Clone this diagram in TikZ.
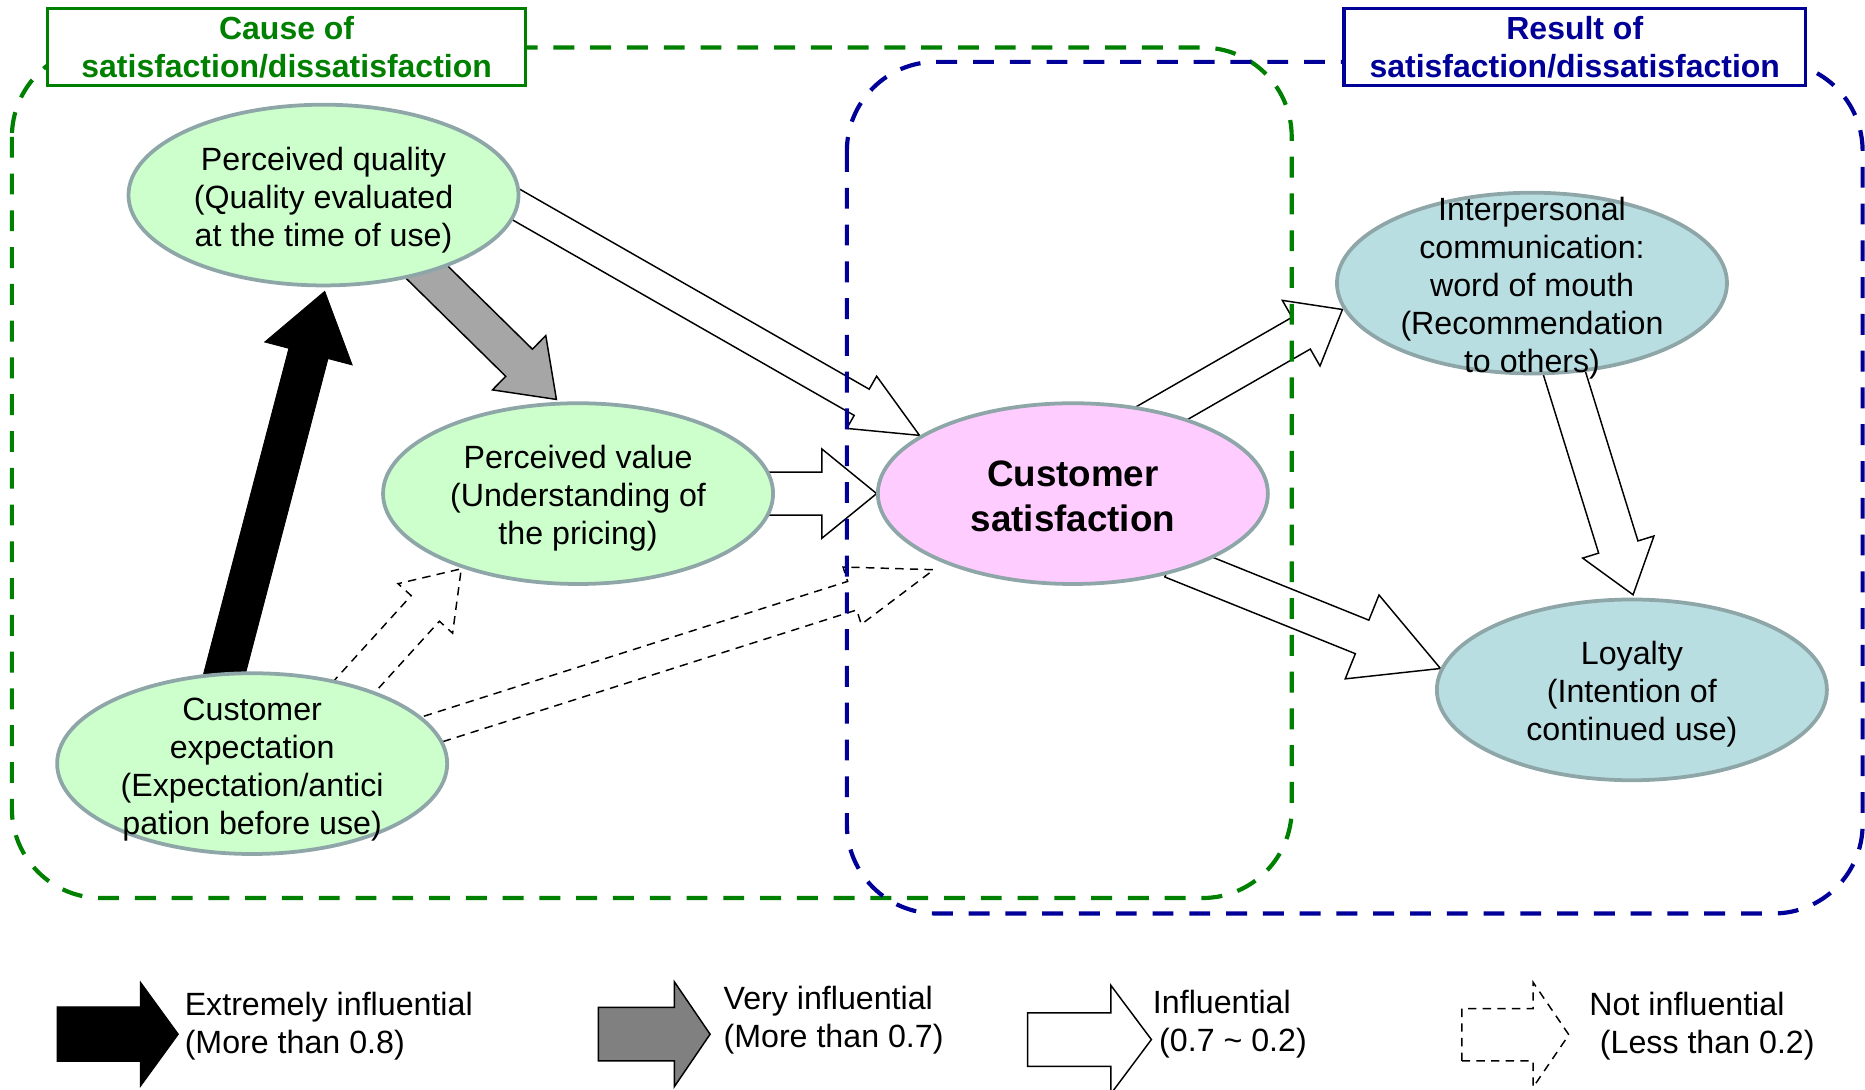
\documentclass[tikz,border=0pt]{standalone}
\usepackage{fontspec}
\setmainfont{Liberation Sans}
\usetikzlibrary{shapes.geometric,calc,backgrounds}

\definecolor{causegreen}{RGB}{0,128,0}
\definecolor{resultblue}{RGB}{0,0,153}
\definecolor{ellborder}{RGB}{143,166,168}
\definecolor{factorgreen}{RGB}{204,255,204}
\definecolor{satpink}{RGB}{255,204,255}
\definecolor{resultcyan}{RGB}{185,222,226}
\definecolor{arrgray}{RGB}{166,166,166}
\definecolor{leggray}{RGB}{128,128,128}

\tikzset{
  ellip/.style={ellipse, draw=ellborder, line width=1.8pt, inner sep=0pt,
    minimum width=6.56cm, minimum height=3.04cm},
  ellitext/.style={align=center, inner sep=0pt, font=\fontsize{15.4pt}{18.2pt}\selectfont},
  legtext/.style={align=left, anchor=west, inner sep=0pt, font=\fontsize{15.4pt}{18.2pt}\selectfont},
  titlebox/.style={draw, fill=white, line width=1.7pt, align=center, inner sep=0pt,
    minimum height=1.3cm, font=\bfseries\fontsize{15.3pt}{18.2pt}\selectfont},
  bound/.style={line width=2pt, dash pattern=on 10pt off 7.6pt, rounded corners=1.5cm},
  blackarrow/.style={fill=black},
  grayarrow/.style={draw=black, line width=0.7pt, fill=arrgray},
  whitearrow/.style={draw=black, line width=0.7pt, fill=white},
  dasharrow/.style={draw=black, line width=0.7pt, dash pattern=on 4pt off 3pt, fill=white}
}

% block arrow: style, tail, tip, shaft half width, head half width, head length
\newcommand{\bigarrow}[6]{%
  \path let \p1=#2, \p2=#3 in \pgfextra{%
    \pgfmathparse{atan2(\y2-\y1,\x2-\x1)}\xdef\arrang{\pgfmathresult}%
    \pgfmathparse{veclen(\x2-\x1,\y2-\y1)/0.569055}\xdef\arrlen{\pgfmathresult}%
    \xdef\arrx{\x1}\xdef\arry{\y1}};
  \draw[#1, shift={(\arrx,\arry)}, rotate=\arrang]
    (0,#4) -- ({\arrlen-#6},#4) -- ({\arrlen-#6},#5) -- (\arrlen,0)
    -- ({\arrlen-#6},-#5) -- ({\arrlen-#6},-#4) -- (0,-#4) -- cycle;
}

\begin{document}
\begin{tikzpicture}[x=0.02cm, y=-0.02cm]
\useasboundingbox (0,0) rectangle (1568,916);

% Causes
\node[ellip, fill=factorgreen] (pq) at (272,164) {};
\node[ellitext] (pqtext) at (272,168) {Perceived quality\\(Quality evaluated\\at the time of use)};
\node[ellip, fill=factorgreen] (pv) at (486,415) {};
\node[ellitext] (pvtext) at (486,419) {Perceived value\\(Understanding of\\the pricing)};
\node[ellip, fill=factorgreen] (ce) at (212,642) {};
\node[ellitext] (cetext) at (212,647) {Customer\\expectation\\(Expectation/antici\\pation before use)};

% Satisfaction
\node[ellip, fill=satpink] (cs) at (902,415) {};
\node[ellitext, font=\bfseries\fontsize{17.6pt}{21.6pt}\selectfont] (cstext) at (902,417) {Customer\\satisfaction};

% Results
\node[ellip, fill=resultcyan] (ic) at (1288,238) {};
\node[ellitext] (ictext) at (1288,242) {Interpersonal\\communication:\\word of mouth\\(Recommendation\\to others)};
\node[ellip, fill=resultcyan] (ly) at (1372,580) {};
\node[ellitext] (lytext) at (1372,584) {Loyalty\\(Intention of\\continued use)};

% Influence arrows
\begin{pgfonlayer}{background}
\bigarrow{blackarrow}{($(ce)+(-26,-65)$)}{($(pq)+(1,81)$)}{17}{38}{54}
\bigarrow{grayarrow}{($(pq)+(80,58)$)}{($(pv)+(-18,-79)$)}{16}{32}{44}
\bigarrow{whitearrow}{($(pq)+(148,0)$)}{($(cs)+(-129,-49)$)}{12.7}{25.3}{56}
\bigarrow{whitearrow}{($(pv)+(154,0)$)}{($(cs)+(-165,0)$)}{18}{37.5}{46}
\bigarrow{dasharrow}{($(ce)+(78,-56)$)}{($(pv)+(-98,63)$)}{16}{31}{45}
\bigarrow{dasharrow}{($(ce)+(133,-23)$)}{($(cs)+(-117,64)$)}{12.6}{25.3}{72}
\bigarrow{whitearrow}{($(cs)+(58,-58)$)}{($(ic)+(-159,22)$)}{15.4}{31.8}{40}
\bigarrow{whitearrow}{($(cs)+(83,56)$)}{($(ly)+(-161,-18)$)}{15.2}{38}{71}
\bigarrow{whitearrow}{($(ic)+(23,62)$)}{($(ly)+(1,-80)$)}{17.3}{31.4}{42}
\end{pgfonlayer}

% Groups
\draw[bound, draw=causegreen] (10,40) rectangle (1086,755);
\draw[bound, draw=resultblue] (712,52) rectangle (1566,768);
\node[titlebox, draw=causegreen, text=causegreen, minimum width=8.04cm] (cause) at (241,39.5)
  {Cause of\\satisfaction/dissatisfaction};
\node[titlebox, draw=resultblue, text=resultblue, minimum width=7.76cm] (result) at (1324,39.5)
  {Result of\\satisfaction/dissatisfaction};

% Legend
\bigarrow{blackarrow}{(48,869.5)}{(150,869.5)}{23}{44}{32}
\node[legtext] (leg1) at (155,863) {Extremely influential\\(More than 0.8)};
\bigarrow{grayarrow, fill=leggray}{(503,869.5)}{(597,869.5)}{22.5}{44}{30}
\node[legtext] (leg2) at (608,858) {Very influential\\(More than 0.7)};
\bigarrow{whitearrow}{(864,874)}{(968,874)}{22.5}{45.5}{34}
\node[legtext] (leg3) at (969,861) {Influential\\\hspace{3pt}(0.7 \textasciitilde{} 0.2)};
\bigarrow{dasharrow}{(1229,870)}{(1319,870)}{22}{44}{30}
\node[legtext] (leg4) at (1336,863) {Not influential\\\hspace{5pt}(Less than 0.2)};

\end{tikzpicture}
\end{document}
